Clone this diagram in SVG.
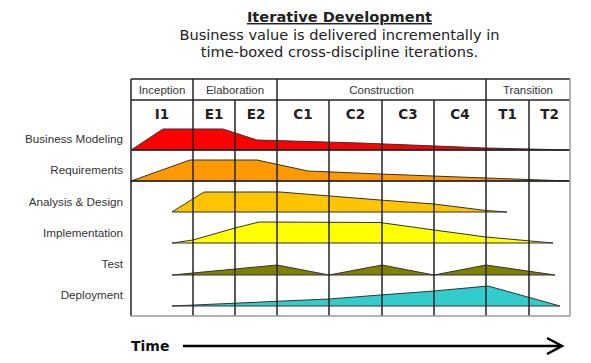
<svg xmlns="http://www.w3.org/2000/svg" width="591" height="363" viewBox="0 0 591 363">
<style>
.title{font-family:"DejaVu Sans",Verdana,sans-serif;fill:#222;font-size:14.6px;text-anchor:middle}
.phase{font-family:"Liberation Sans",Arial,sans-serif;font-size:11.5px;fill:#333;text-anchor:middle}
.iter{font-family:"DejaVu Sans",Verdana,sans-serif;font-size:13.5px;font-weight:bold;fill:#222;text-anchor:middle}
.disc{font-family:"Liberation Sans",Arial,sans-serif;font-size:11.7px;fill:#333;text-anchor:end}
.shape{stroke:#333;stroke-width:1;stroke-linejoin:miter}
.grid{stroke:#222;stroke-width:1.5;fill:none}
.edge{stroke:#9a9a9a;stroke-width:1.5;fill:none}
</style>
<rect width="591" height="363" fill="#fff"/>
<g id="title">
<text class="title" x="339.5" y="22" font-weight="bold" text-decoration="underline">Iterative Development</text>
<text class="title" x="339.5" y="40">Business value is delivered incrementally in</text>
<text class="title" x="339.5" y="57">time-boxed cross-discipline iterations.</text>
</g>
<g id="business-modeling">
<polygon class="shape" fill="#ff0000" points="131,150 163,129 223,129 257,140 360,143 486,148 570,150"/>
<text class="disc" x="123" y="143">Business Modeling</text>
</g>
<g id="requirements">
<polygon class="shape" fill="#ff9900" points="131,181 190,160 257,160 308,171 380,174 486,178 570,181"/>
<text class="disc" x="123" y="174">Requirements</text>
</g>
<g id="analysis-design">
<polygon class="shape" fill="#ffc400" points="172,212 204,192 280,192 380,200 434,204 486,210.5 507,212"/>
<text class="disc" x="123" y="205.5">Analysis &amp; Design</text>
</g>
<g id="implementation">
<polygon class="shape" fill="#ffff00" points="172,243 193,240 235,228 259,222 380,222.5 434,230 486,237 553,243"/>
<text class="disc" x="123" y="236.5">Implementation</text>
</g>
<g id="test">
<polygon class="shape" fill="#808000" points="172,275 277,265 329,275 382,265 434,275 486,265 555,275"/>
<text class="disc" x="123" y="268">Test</text>
</g>
<g id="deployment">
<polygon class="shape" fill="#33cccc" points="172,306 329,299 380,295 434,291 488,286 560,306"/>
<text class="disc" x="123" y="299">Deployment</text>
</g>
<g id="connectors">
<line class="grid" x1="131" y1="79" x2="131" y2="316"/>
<line class="grid" x1="131" y1="79" x2="570" y2="79"/>
<line class="grid" x1="131" y1="100" x2="570" y2="100"/>
<line class="grid" x1="131" y1="150" x2="570" y2="150"/>
<line class="grid" x1="131" y1="181" x2="570" y2="181"/>
<line class="grid" x1="193" y1="79" x2="193" y2="316"/>
<line class="grid" x1="235" y1="100" x2="235" y2="316"/>
<line class="grid" x1="277" y1="79" x2="277" y2="316"/>
<line class="grid" x1="329" y1="100" x2="329" y2="316"/>
<line class="grid" x1="382" y1="100" x2="382" y2="316"/>
<line class="grid" x1="434" y1="100" x2="434" y2="316"/>
<line class="grid" x1="486" y1="79" x2="486" y2="316"/>
<line class="grid" x1="529" y1="100" x2="529" y2="316"/>
<line class="edge" x1="570" y1="79" x2="570" y2="316"/>
<line class="edge" x1="131" y1="316" x2="570" y2="316"/>
<line x1="183" y1="346" x2="561" y2="346" stroke="#000" stroke-width="2.5"/>
<polyline points="547,338 562,346 547,354" fill="none" stroke="#000" stroke-width="2.5"/>
</g>
<g id="phases">
<text class="phase" x="162" y="93.5">Inception</text>
<text class="phase" x="235" y="93.5">Elaboration</text>
<text class="phase" x="381.5" y="93.5">Construction</text>
<text class="phase" x="528" y="93.5">Transition</text>
</g>
<g id="iterations">
<text class="iter" x="162" y="119">I1</text>
<text class="iter" x="214" y="119">E1</text>
<text class="iter" x="256" y="119">E2</text>
<text class="iter" x="303" y="119">C1</text>
<text class="iter" x="355.5" y="119">C2</text>
<text class="iter" x="408" y="119">C3</text>
<text class="iter" x="460" y="119">C4</text>
<text class="iter" x="507.5" y="119">T1</text>
<text class="iter" x="549.5" y="119">T2</text>
</g>
<g id="time">
<text x="131" y="351" font-family="DejaVu Sans,Verdana,sans-serif" font-size="14" font-weight="bold" fill="#111">Time</text>
</g>
</svg>
